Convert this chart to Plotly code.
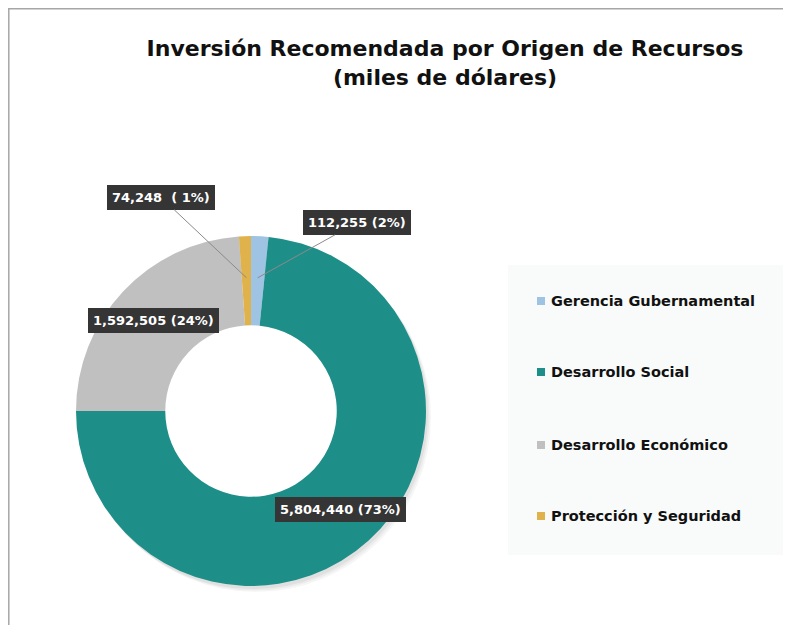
import math
import plotly.graph_objects as go

# ---- data ----
categories = ["Gerencia Gubernamental", "Desarrollo Social", "Desarrollo Económico", "Protección y Seguridad"]
amounts = [112255, 5804440, 1592505, 74248]          # miles de dólares (label values)
pct_labels = ["2%", "73%", "24%", " 1%"]             # percentages as printed
shares = [1.6, 73.4, 23.9, 1.1]                      # slice sizes as drawn in the picture
colors = ["#9fc3e3", "#1e8f88", "#c1c0c0", "#dfb24c"]

# page has an 8px body margin; work in page pixel coords and convert
OX, OY = 8, 8
W, H = 783, 617
FONT = "DejaVu Sans"


def fx(px):
    return (px - OX) / W


def fy(py):
    return 1 - (py - OY) / H


# pie geometry (page pixels)
cx, cy, R = 251, 411, 175
hole = 0.49

fig = go.Figure()

# soft shadow behind donut (rings whose inner edge is hidden by the donut)
for off, op in [(5, 0.035), (3.5, 0.04), (2, 0.05)]:
    fig.add_trace(go.Pie(
        values=[1], labels=["s"], hole=0.8, sort=False, textinfo="none", showlegend=False,
        hoverinfo="skip", marker=dict(colors=[f"rgba(0,0,0,{op})"], line=dict(width=0)),
        domain=dict(x=[fx(cx - R + off), fx(cx + R + off)],
                    y=[fy(cy + R + off + 1), fy(cy - R + off + 1)]),
    ))

fig.add_trace(go.Pie(
    labels=categories, values=shares, hole=hole, sort=False,
    direction="clockwise", rotation=0,
    marker=dict(colors=colors, line=dict(width=0)),
    textinfo="none", showlegend=False,
    domain=dict(x=[fx(cx - R), fx(cx + R)], y=[fy(cy + R), fy(cy - R)]),
    hovertemplate="%{label}: %{customdata}<extra></extra>",
    customdata=[f"{a:,}" for a in amounts],
))

# data labels with dark boxes
total = sum(shares)
rmid = (R + R * hole) / 2 + 3
offsets = {0: (99, -55), 3: (-85, -80)}
cum = 0
for i, (s, a, p) in enumerate(zip(shares, amounts, pct_labels)):
    mid = (cum + s / 2) / total * 2 * math.pi
    cum += s
    px = cx + rmid * math.sin(mid)
    py = cy - rmid * math.cos(mid)
    sep = "  " if p.startswith(" ") else " "
    txt = f"<b>{a:,}{sep}({p})</b>"
    ann = dict(x=fx(px), y=fy(py), xref="paper", yref="paper", text=txt,
               font=dict(family=FONT, size=13, color="white"),
               bgcolor="#353535", borderpad=4, bordercolor="#353535")
    if i in offsets:
        ax, ay = offsets[i]
        ann.update(showarrow=True, ax=ax, ay=ay, arrowhead=0, arrowwidth=1,
                   arrowcolor="#8a8a8a")
    else:
        ann.update(showarrow=False, xanchor="center", yanchor="middle")
    fig.add_annotation(**ann)

# frame lines
fig.add_shape(type="line", xref="paper", yref="paper", x0=0, x1=1, y0=fy(8.8), y1=fy(8.8),
              line=dict(color="#a6a6a6", width=1.5))
fig.add_shape(type="line", xref="paper", yref="paper", x0=fx(8.8), x1=fx(8.8), y0=0, y1=fy(8.8),
              line=dict(color="#a6a6a6", width=1.5))

# legend panel
fig.add_shape(type="rect", xref="paper", yref="paper", x0=fx(508), x1=fx(787),
              y0=fy(555), y1=fy(265), fillcolor="#f9fafa", line=dict(width=0), layer="below")
leg_y = [301, 372, 445, 516]
for cat, col, yy in zip(categories, colors, leg_y):
    fig.add_shape(type="rect", xref="paper", yref="paper",
                  x0=fx(537), x1=fx(545), y0=fy(yy + 4), y1=fy(yy - 4),
                  fillcolor=col, line=dict(width=0))
    fig.add_annotation(x=fx(549), y=fy(yy), xref="paper", yref="paper",
                       text=f"<b>{cat}</b>", showarrow=False, xanchor="left", yanchor="middle",
                       font=dict(family=FONT, size=14.5, color="#111111"))

fig.update_layout(
    width=W, height=H,
    margin=dict(l=0, r=0, t=0, b=0),
    paper_bgcolor="white", plot_bgcolor="white",
    title=dict(text="<b>Inversión Recomendada por Origen de Recursos<br>(miles de dólares)</b>",
               x=fx(445), xanchor="center", y=fy(56), yanchor="middle",
               font=dict(family=FONT, size=22, color="#111111")),
)

fig.write_html("out.html")
